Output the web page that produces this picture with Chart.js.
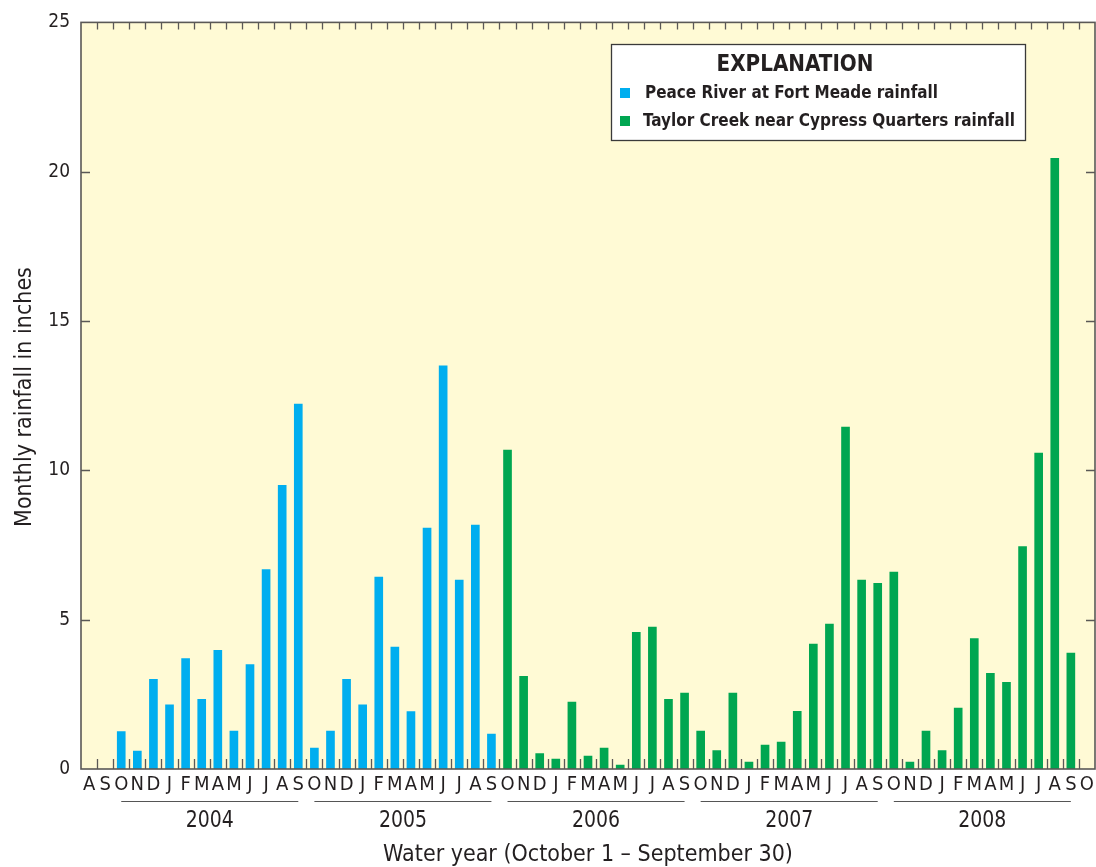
<!DOCTYPE html>
<html>
<head>
<meta charset="utf-8">
<script src="https://cdn.jsdelivr.net/npm/chart.js@4"></script>
<style>
  body { margin: 0; background: #ffffff; }
  canvas { display: block; }
</style>
</head>
<body>
<canvas id="rainChart" width="1096" height="867"></canvas>
<script>
// month labels, Aug 2003 .. Oct 2008
var monthCycle = ['O', 'N', 'D', 'J', 'F', 'M', 'A', 'M', 'J', 'J', 'A', 'S'];
var months = ['A', 'S'];
for (let y = 0; y < 5; y++) {
    months = months.concat(monthCycle);
}
months.push('O');

// water years, and index of the October that starts each one
var waterYears = ['2004', '2005', '2006', '2007', '2008'];
var waterYearStart = [2, 14, 26, 38, 50];

var yTicks = [0, 5, 10, 15, 20, 25];

// Peace River at Fort Meade rainfall, inches
var peaceRiver = [null, null,
    1.25, 0.6, 3.0, 2.15, 3.7, 2.33, 3.97, 1.27, 3.5, 6.68, 9.5, 12.22,
    0.7, 1.27, 3.0, 2.15, 6.43, 4.08, 1.92, 8.07, 13.5, 6.33, 8.17, 1.17,
    null, null, null, null, null, null, null, null, null, null, null, null,
    null, null, null, null, null, null, null, null, null, null, null, null,
    null, null, null, null, null, null, null, null, null, null, null, null,
    null];

// Taylor Creek near Cypress Quarters rainfall, inches
var taylorCreek = [null, null,
    null, null, null, null, null, null, null, null, null, null, null, null,
    null, null, null, null, null, null, null, null, null, null, null, null,
    10.68, 3.1, 0.52, 0.33, 2.24, 0.43, 0.7, 0.13, 4.58, 4.75, 2.33, 2.54,
    1.27, 0.62, 2.54, 0.23, 0.8, 0.9, 1.93, 4.18, 4.85, 11.45, 6.33, 6.22,
    6.59, 0.23, 1.27, 0.62, 2.04, 4.37, 3.2, 2.9, 7.45, 10.58, 20.45, 3.88,
    null];

var blue = '#00aeef';
var green = '#00a651';
var ink = '#231f20';
var frame = '#5a5856';
var fontFam = '"Liberation Sans Narrow", "DejaVu Sans Condensed", "Roboto", sans-serif';

// yellow plot background + tick marks pointing inward
var frameBack = {
    id: 'frameBack',
    beforeDatasetsDraw(chart) {
        const ctx = chart.ctx;
        const a = chart.chartArea;
        const xs = chart.scales.x;
        const ys = chart.scales.y;
        ctx.save();
        ctx.fillStyle = '#fffad5';
        ctx.fillRect(a.left, a.top, a.right - a.left, a.bottom - a.top);

        ctx.strokeStyle = frame;
        ctx.lineWidth = 1.3;
        ctx.beginPath();
        for (let i = 1; i < months.length; i++) {
            const bx = Math.round((xs.getPixelForValue(i - 1) + xs.getPixelForValue(i)) / 2) + 0.5;
            ctx.moveTo(bx, a.top);
            ctx.lineTo(bx, a.top + 7);
            ctx.moveTo(bx, a.bottom);
            ctx.lineTo(bx, a.bottom - 10);
        }
        for (let v of yTicks) {
            if (v === 0 || v === 25) continue;
            const py = Math.round(ys.getPixelForValue(v)) + 0.5;
            ctx.moveTo(a.left, py);
            ctx.lineTo(a.left + 9, py);
            ctx.moveTo(a.right, py);
            ctx.lineTo(a.right - 9, py);
        }
        ctx.stroke();
        ctx.restore();
    },
    afterDatasetsDraw(chart) {
        const ctx = chart.ctx;
        const a = chart.chartArea;
        ctx.save();
        ctx.strokeStyle = frame;
        ctx.lineWidth = 1.6;
        ctx.strokeRect(a.left, a.top, a.right - a.left, a.bottom - a.top);
        ctx.restore();
    }
};

// year brackets, axis titles and the explanation box
var annotations = {
    id: 'annotations',
    afterDraw(chart) {
        const ctx = chart.ctx;
        const a = chart.chartArea;
        const xs = chart.scales.x;
        ctx.save();

        // water-year lines + labels
        ctx.strokeStyle = '#555';
        ctx.lineWidth = 1.2;
        ctx.fillStyle = ink;
        ctx.font = '23px ' + fontFam;
        ctx.textAlign = 'center';
        ctx.textBaseline = 'middle';
        waterYears.forEach(function (yr, k) {
            const x0 = xs.getPixelForValue(waterYearStart[k]);
            const x1 = xs.getPixelForValue(waterYearStart[k] + 11);
            ctx.beginPath();
            ctx.moveTo(x0, 801.5);
            ctx.lineTo(x1, 801.5);
            ctx.stroke();
            ctx.fillText(yr, (x0 + x1) / 2, 821, 48);
        });

        // x title
        ctx.fillText('Water year (October 1 \u2013 September 30)', (a.left + a.right) / 2, 855, 414);

        // y title
        ctx.save();
        ctx.translate(25, 397);
        ctx.rotate(-Math.PI / 2);
        ctx.fillText('Monthly rainfall in inches', 0, 0, 266);
        ctx.restore();

        // explanation box
        ctx.fillStyle = '#ffffff';
        ctx.fillRect(611, 44, 414, 96);
        ctx.strokeStyle = '#3a3a3a';
        ctx.lineWidth = 1.3;
        ctx.strokeRect(611.5, 44.5, 414, 96);

        ctx.fillStyle = ink;
        ctx.font = 'bold 23px ' + fontFam;
        ctx.fillText('EXPLANATION', 795, 65, 157);

        ctx.textAlign = 'left';
        ctx.font = 'bold 18px ' + fontFam;
        const items = [
            { label: chart.data.datasets[0].label, color: blue, y: 93 },
            { label: chart.data.datasets[1].label, color: green, y: 121 }
        ];
        items.forEach(function (it, k) {
            ctx.fillStyle = it.color;
            ctx.fillRect(620, it.y - 5, 10, 10);
            ctx.fillStyle = ink;
            ctx.fillText(it.label, k === 0 ? 645 : 643, it.y, k === 0 ? 293 : 372);
        });
        ctx.restore();
    }
};

var ctx = document.getElementById('rainChart').getContext('2d');
var rainChart = new Chart(ctx, {
    type: 'bar',
    data: {
        labels: months,
        datasets: [{
            label: 'Peace River at Fort Meade rainfall',
            data: peaceRiver,
            backgroundColor: blue,
            barThickness: 8
        }, {
            label: 'Taylor Creek near Cypress Quarters rainfall',
            data: taylorCreek,
            backgroundColor: green,
            barThickness: 8
        }]
    },
    options: {
        responsive: false,
        devicePixelRatio: 1,
        animation: false,
        layout: { padding: { top: 22, right: 1, left: 0, bottom: 0 } },
        plugins: {
            legend: { display: false },
            tooltip: { enabled: false }
        },
        scales: {
            x: {
                stacked: true,
                offset: true,
                grid: { display: false, drawTicks: false },
                border: { display: false },
                ticks: {
                    autoSkip: false,
                    maxRotation: 0,
                    padding: 4,
                    color: ink,
                    font: { family: fontFam, size: 20 }
                },
                afterFit: function (s) {
                    s.height = 98;
                    s.paddingLeft = 0;
                    s.paddingRight = 0;
                }
            },
            y: {
                stacked: true,
                min: 0,
                max: 25,
                grid: { display: false, drawTicks: false },
                border: { display: false },
                ticks: {
                    stepSize: 5,
                    padding: 11,
                    color: ink,
                    font: { family: fontFam, size: 19 }
                },
                afterFit: function (s) { s.width = 81; }
            }
        }
    },
    plugins: [frameBack, annotations]
});
</script>
</body>
</html>
